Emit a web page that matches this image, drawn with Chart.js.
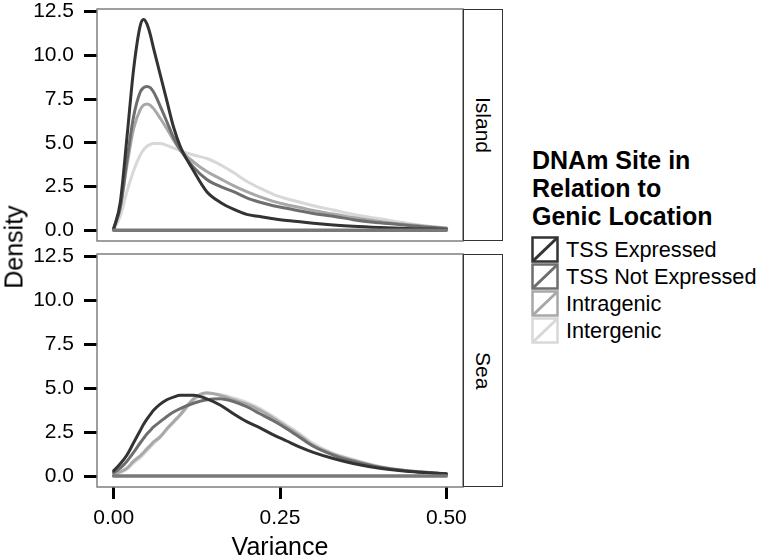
<!DOCTYPE html>
<html><head><meta charset="utf-8">
<script src="https://cdn.jsdelivr.net/npm/chart.js@4"></script>
<style>
body{margin:0;background:#fff;width:760px;height:559px;position:relative;overflow:hidden;font-family:"Liberation Sans",Arial,Helvetica,sans-serif;color:#000}
canvas{position:absolute;left:0}
.strip{position:absolute;left:463px;width:40px;border:1px solid #333;box-sizing:border-box;display:flex;align-items:center;justify-content:center;background:#fff}
.strip span{writing-mode:vertical-rl;font-size:21px;line-height:1}
#ylab{position:absolute;left:14px;top:247px;transform:translate(-50%,-50%) rotate(-90deg);font-size:25px;white-space:nowrap;line-height:1}
#xlab{position:absolute;left:280px;top:546px;transform:translate(-50%,-50%);font-size:25px;white-space:nowrap;line-height:1}
#legtitle{position:absolute;left:532px;top:146px;font-weight:bold;font-size:25px;line-height:28px}
.key{position:absolute;left:531px;height:27px;display:flex;align-items:center}
.key svg{display:block}
.key span{margin-left:7px;font-size:21.7px;white-space:nowrap}
</style></head>
<body>
<canvas id="top" width="475" height="243" style="top:0"></canvas>
<canvas id="bot" width="475" height="314" style="top:245px"></canvas>
<div class="strip" style="top:9px;height:232px"><span>Island</span></div>
<div class="strip" style="top:254px;height:233px"><span>Sea</span></div>
<div id="ylab">Density</div>
<div id="xlab">Variance</div>
<div id="legtitle">DNAm Site in<br>Relation to<br>Genic Location</div>
<div id="legend"></div>
<script>
// ---- data ----
const seriesNames = ["TSS Expressed", "TSS Not Expressed", "Intragenic", "Intergenic"];
const seriesColors = ["#333333", "#6e6e6e", "#a8a8a8", "#d8d8d8"];
const panelNames = ["Island", "Sea"];
const densityTicks = [0, 2.5, 5, 7.5, 10, 12.5];
const varianceTicks = [0, 0.25, 0.5];
const variance = [0, .01, .02, .03, .04, .045, .05, .055, .06, .07, .08, .09, .10, .12, .14, .16, .18, .20, .22, .24, .26, .28, .30, .33, .36, .40, .44, .48, .50];

const islandTssExpressed = [0.05, 1.6, 5.3, 9.2, 11.7, 12.05, 11.8, 11.2, 10.4, 8.9, 7.4, 5.9, 4.8, 3.4, 2.2, 1.6, 1.2, 0.9, 0.78, 0.65, 0.55, 0.48, 0.4, 0.3, 0.22, 0.15, 0.1, 0.06, 0.04];
const islandTssNotExpressed = [0.1, 1.3, 4.0, 6.5, 7.9, 8.15, 8.22, 8.15, 7.9, 7.1, 6.2, 5.3, 4.6, 3.6, 2.9, 2.5, 2.2, 1.85, 1.6, 1.4, 1.25, 1.1, 0.95, 0.8, 0.6, 0.42, 0.28, 0.15, 0.1];
const islandIntragenic = [0.05, 1.3, 3.7, 5.8, 6.9, 7.15, 7.22, 7.15, 6.95, 6.4, 5.8, 5.15, 4.6, 3.9, 3.35, 2.95, 2.55, 2.2, 1.9, 1.65, 1.45, 1.3, 1.12, 0.92, 0.72, 0.5, 0.32, 0.18, 0.12];
const islandIntergenic = [0.02, 0.8, 2.2, 3.4, 4.3, 4.6, 4.8, 4.9, 4.95, 4.95, 4.85, 4.7, 4.55, 4.3, 4.1, 3.75, 3.3, 2.8, 2.4, 2.05, 1.8, 1.6, 1.4, 1.15, 0.9, 0.65, 0.4, 0.2, 0.13];

const seaTssExpressed = [0.3, 0.7, 1.2, 1.9, 2.6, 2.95, 3.25, 3.5, 3.75, 4.1, 4.35, 4.5, 4.6, 4.6, 4.4, 4.05, 3.55, 3.1, 2.75, 2.35, 2.0, 1.65, 1.35, 1.0, 0.72, 0.45, 0.28, 0.18, 0.13];
const seaTssNotExpressed = [0.2, 0.45, 0.85, 1.35, 1.9, 2.15, 2.4, 2.6, 2.8, 3.1, 3.4, 3.65, 3.85, 4.15, 4.35, 4.4, 4.25, 3.95, 3.55, 3.15, 2.7, 2.2, 1.7, 1.2, 0.85, 0.5, 0.3, 0.18, 0.13];
const seaIntragenic = [0.1, 0.25, 0.45, 0.85, 1.15, 1.35, 1.55, 1.75, 1.95, 2.25, 2.7, 3.1, 3.5, 4.4, 4.75, 4.6, 4.35, 4.1, 3.75, 3.3, 2.8, 2.3, 1.75, 1.25, 0.9, 0.52, 0.3, 0.18, 0.12];
const seaIntergenic = [0.05, 0.2, 0.4, 0.75, 1.05, 1.25, 1.45, 1.65, 1.85, 2.2, 2.65, 3.05, 3.45, 4.3, 4.7, 4.65, 4.45, 4.2, 3.85, 3.4, 2.9, 2.4, 1.85, 1.3, 0.95, 0.55, 0.32, 0.2, 0.12];

const islandSeries = [islandTssExpressed, islandTssNotExpressed, islandIntragenic, islandIntergenic];
const seaSeries = [seaTssExpressed, seaTssNotExpressed, seaIntragenic, seaIntergenic];

// ---- chart ----
const FONT = "'Liberation Sans', Arial, Helvetica, sans-serif";
const panelBorder = {
  id: 'panelBorder',
  afterDatasetsDraw(chart) {
    const a = chart.chartArea, ctx = chart.ctx;
    ctx.save();
    ctx.strokeStyle = '#7f7f7f';
    ctx.lineWidth = 1.5;
    ctx.strokeRect(a.left, a.top, a.right - a.left, a.bottom - a.top);
    ctx.restore();
  }
};

function makePanel(id, series, showX) {
  const datasets = [{
    label: 'baseline',
    data: [{x: 0, y: 0}, {x: 0.5, y: 0}],
    borderColor: '#787878', borderWidth: 3.5, borderCapStyle: 'round', pointRadius: 0
  }];
  series.forEach((vals, i) => {
    datasets.push({
      label: seriesNames[i],
      data: variance.map((x, k) => ({x: x, y: vals[k]})),
      borderColor: seriesColors[i], borderWidth: 3, pointRadius: 0,
      cubicInterpolationMode: 'monotone', borderJoinStyle: 'round', borderCapStyle: 'round', fill: false
    });
  });
  return new Chart(document.getElementById(id), {
    type: 'line',
    data: {datasets},
    plugins: [panelBorder],
    options: {
      responsive: false, animation: false, devicePixelRatio: 1,
      layout: {padding: {top: 9, right: 12, bottom: showX ? 0 : 2, left: 0}},
      plugins: {legend: {display: false}, tooltip: {enabled: false}},
      scales: {
        x: {
          type: 'linear', min: -0.025, max: 0.525, display: showX,
          afterBuildTicks: s => { s.ticks = varianceTicks.map(v => ({value: v})); },
          afterFit: s => { if (showX) { s.height = 72; } s.paddingLeft = 0; s.paddingRight = 0; },
          border: {display: false},
          grid: {drawOnChartArea: false, drawTicks: true, tickLength: 12, tickWidth: 3, tickColor: '#000'},
          ticks: {color: '#000', padding: 7, font: {family: FONT, size: 21}, callback: v => v.toFixed(2), maxRotation: 0}
        },
        y: {
          type: 'linear', min: -0.62, max: 12.65,
          afterBuildTicks: s => { s.ticks = densityTicks.map(v => ({value: v})); },
          afterFit: s => { s.width = 97; s.paddingTop = 0; s.paddingBottom = 0; },
          border: {display: false},
          grid: {drawOnChartArea: false, drawTicks: true, tickLength: 13, tickWidth: 3, tickColor: '#000'},
          ticks: {color: '#000', padding: 10, font: {family: FONT, size: 21}, callback: v => v.toFixed(1)}
        }
      }
    }
  });
}
makePanel('top', islandSeries, false);
makePanel('bot', seaSeries, true);

// ---- legend ----
const leg = document.getElementById('legend');
seriesNames.forEach((name, i) => {
  const d = document.createElement('div');
  d.className = 'key';
  d.style.top = (236 + 27 * i) + 'px';
  const c = seriesColors[i];
  d.innerHTML = '<svg width="28" height="27" viewBox="0 0 28 27"><rect x="1.5" y="1.5" width="25" height="24" fill="#fff" stroke="' + c + '" stroke-width="2.5"/><line x1="2.5" y1="24.5" x2="25.5" y2="2.5" stroke="' + c + '" stroke-width="3"/></svg><span>' + name + '</span>';
  leg.appendChild(d);
});
</script>
</body></html>
